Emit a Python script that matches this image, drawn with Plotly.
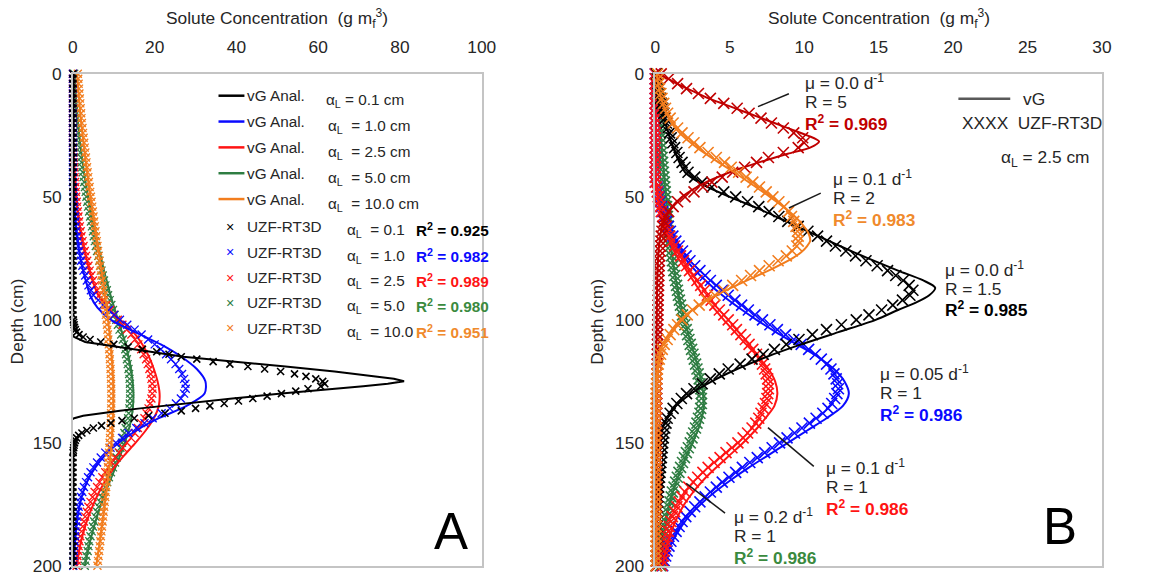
import plotly.graph_objects as go

# Layout is specified in target-pixel coordinates (1151 x 580) and mapped to figure pixels.
W, H = 1151, 581
PAD = 8                          # default html body margin
SX, SY = 1151 / 1167, 580 / 597  # page-to-picture scale
FONT = "Arial, Liberation Sans, sans-serif"
TXT = "#262626"
FS = 1.02                        # font compensation for the picture scale

# ---------------- depth grids (cm) ----------------
depth_mk = list(range(0, 201, 2))      # simulated (UZF-RT3D) output depths
depth_ln = list(range(0, 201, 5))      # analytical (vG) profile depths

# ================= Panel A : dispersivity series =================
# alpha_L = 0.1 cm
depth_a01_ln = [0, 20, 40, 60, 80, 95, 100, 103, 105, 107, 109, 111, 113, 115, 117, 119, 121, 123, 124,
                125, 126, 127, 128, 130, 132, 134, 136, 137, 138, 139, 140, 141, 143, 146, 150, 155, 160, 180, 200]
conc_a01_ln = [0, 0, 0, 0, 0, 0, -0.2, -0.8, -0.6, 0.3, 3.0, 10.5, 19.0, 27.0, 40.0, 52.0, 64.0, 74.5, 78.5,
               81.0, 77.0, 71.0, 64.0, 51.0, 39.0, 27.0, 16.5, 11.5, 6.5, 2.5, 0.3, -0.7, -1.0, -0.8, -0.3, 0, 0, 0, 0]
depth_a01_mk = list(range(0, 100, 2)) + list(range(100, 155)) + list(range(156, 201, 2))
conc_a01_mk = [0, 0, 0, 0, 0, 0, 0, 0, 0, 0, 0, 0, 0, 0, 0, 0, 0, 0, 0, 0, 0, 0, 0, 0, 0,
               0, 0, 0, 0, 0, 0, 0, 0, 0, 0, 0, 0, 0, 0, 0, 0, 0, 0, 0, 0, 0, 0, 0, 0, 0,
               0.1, 0.2, 0.3, 0.4, 0.6, 0.9, 1.5, 2.5, 4.2, 6.8, 10.0, 13.5, 17.0, 20.5, 23.5, 26.5,
               30.3, 34.3, 38.4, 42.8, 46.9, 50.8, 54.2, 57.0, 59.4, 61.1, 61.6, 60.6, 57.5, 54.5, 51.0,
               47.5, 44.0, 40.5, 37.0, 33.5, 30.0, 26.5, 22.5, 18.5, 15.0, 12.0, 9.3, 7.0, 5.0, 3.4,
               2.2, 1.4, 0.9, 0.6, 0.4, 0.3, 0.2, 0.1, 0.05,
               0, 0, 0, 0, 0, 0, 0, 0, 0, 0, 0, 0, 0, 0, 0, 0, 0, 0, 0, 0, 0, 0, 0]

# alpha_L = 1.0 cm
conc_a1_ln = [0, 0, 0, 0, 0, 0, 0, 0, 0, 0.05, 0.15, 0.35, 0.6, 0.95, 1.35, 1.85, 2.5, 3.3, 4.2, 6.0,
              9.3, 15.2, 21.5, 26.5, 30.3, 32.4, 32.2, 27.8, 21.0, 15.5, 11.2, 7.9, 5.5, 3.7, 2.5, 1.7,
              1.15, 0.8, 0.5, 0.3, 0.2]
conc_a1_mk = [0, 0, 0, 0, 0, 0, 0, 0, 0, 0, 0, 0, 0, 0, 0, 0, 0, 0, 0, 0, 0, 0, 0,
              0.1, 0.15, 0.2, 0.25, 0.3, 0.4, 0.5, 0.6, 0.7, 0.8, 1.0, 1.15, 1.3, 1.5, 1.8, 2.0, 2.3,
              2.6, 3.0, 3.4, 3.8, 4.4, 5.0, 6.2, 7.4, 8.7, 10.1, 11.5, 13.3, 15.1, 16.8, 18.4, 20.0,
              21.5, 22.8, 24.0, 25.1, 26.0, 26.7, 27.2, 27.5, 27.6, 27.2, 26.4, 25.2, 23.7, 21.7, 19.5,
              17.5, 15.5, 13.6, 12.0, 10.5, 9.2, 7.9, 6.8, 5.9, 5.0, 4.3, 3.7, 3.2, 2.7, 2.3, 2.0, 1.7,
              1.4, 1.2, 1.0, 0.85, 0.7, 0.6, 0.5, 0.4, 0.3, 0.25, 0.2, 0.15, 0.1]

# alpha_L = 2.5 cm
conc_a25_ln = [0, 0, 0, 0, 0, 0, 0.1, 0.2, 0.35, 0.55, 0.8, 1.1, 1.5, 2.0, 2.6, 3.3, 4.1, 5.0, 6.2, 8.3,
               11.6, 14.8, 17.0, 18.6, 19.8, 20.7, 21.2, 21.0, 19.8, 17.8, 15.3, 12.6, 10.1, 8.1, 6.4,
               5.0, 3.8, 2.8, 2.0, 1.4, 1.0]
conc_a25_mk = [0, 0, 0, 0, 0, 0, 0, 0, 0, 0, 0, 0, 0, 0, 0,
               0.1, 0.13, 0.17, 0.22, 0.28, 0.35, 0.43, 0.52, 0.61, 0.7, 0.8, 0.93, 1.06, 1.2, 1.35,
               1.5, 1.7, 1.9, 2.1, 2.35, 2.6, 2.9, 3.2, 3.5, 3.8, 4.1, 4.5, 4.9, 5.4, 5.9, 6.4, 7.3,
               8.2, 9.1, 10.0, 11.0, 12.1, 13.2, 14.3, 15.2, 16.0, 16.7, 17.3, 17.9, 18.3, 18.7, 19.0,
               19.2, 19.4, 19.5, 19.4, 19.2, 18.9, 18.5, 18.0, 17.5, 16.7, 15.9, 15.1, 14.2, 13.2, 12.2,
               11.3, 10.3, 9.5, 8.7, 7.9, 7.2, 6.5, 5.9, 5.3, 4.8, 4.3, 3.8, 3.4, 3.0, 2.7, 2.4, 2.1,
               1.8, 1.6, 1.4, 1.3, 1.1, 1.0, 0.9]

# alpha_L = 5.0 cm
conc_a5_ln = [0.4, 0.55, 0.75, 1.0, 1.25, 1.55, 1.9, 2.3, 2.7, 3.2, 3.7, 4.3, 4.9, 5.5, 6.2, 6.9, 7.6,
              8.4, 9.2, 10.1, 11.0, 12.0, 12.9, 13.6, 14.2, 14.6, 14.8, 14.7, 14.3, 13.6, 12.7, 11.6,
              10.4, 9.2, 8.0, 6.9, 5.9, 5.0, 4.2, 3.5, 2.9]
conc_a5_mk = [0.3, 0.35, 0.4, 0.48, 0.54, 0.6, 0.7, 0.8, 0.9, 1.0, 1.1, 1.22, 1.34, 1.46, 1.58, 1.7,
              1.84, 1.98, 2.12, 2.26, 2.4, 2.58, 2.76, 2.94, 3.12, 3.3, 3.5, 3.7, 3.95, 4.2, 4.4, 4.65,
              4.9, 5.1, 5.35, 5.6, 5.9, 6.2, 6.45, 6.7, 7.0, 7.3, 7.6, 7.95, 8.3, 8.6, 9.0, 9.4, 9.8,
              10.2, 10.6, 11.0, 11.4, 11.8, 12.2, 12.5, 12.8, 13.0, 13.2, 13.4, 13.6, 13.75, 13.85,
              13.95, 14.0, 14.0, 14.0, 13.9, 13.8, 13.65, 13.5, 13.2, 12.9, 12.6, 12.3, 12.0, 11.6,
              11.2, 10.7, 10.3, 9.8, 9.3, 8.8, 8.4, 7.9, 7.5, 7.1, 6.7, 6.3, 5.9, 5.5, 5.2, 4.9, 4.6,
              4.3, 4.0, 3.8, 3.6, 3.3, 3.1, 2.9]

# alpha_L = 10.0 cm
conc_a10_ln = [1.0, 1.25, 1.5, 1.75, 2.05, 2.4, 2.75, 3.1, 3.5, 3.9, 4.3, 4.75, 5.2, 5.65, 6.1, 6.55,
               7.0, 7.45, 7.85, 8.25, 8.6, 8.95, 9.25, 9.5, 9.7, 9.85, 9.9, 9.9, 9.8, 9.65, 9.45, 9.2,
               8.9, 8.55, 8.2, 7.8, 7.4, 7.0, 6.6, 6.15, 5.7]
conc_a10_mk = [1.2, 1.3, 1.4, 1.5, 1.6, 1.7, 1.8, 1.9, 2.0, 2.1, 2.2, 2.34, 2.48, 2.62, 2.76, 2.9,
               3.04, 3.18, 3.32, 3.46, 3.6, 3.76, 3.92, 4.08, 4.24, 4.4, 4.56, 4.72, 4.88, 5.04, 5.2,
               5.36, 5.52, 5.68, 5.84, 6.0, 6.16, 6.32, 6.48, 6.64, 6.8, 6.95, 7.1, 7.25, 7.4, 7.54,
               7.67, 7.8, 7.93, 8.06, 8.2, 8.32, 8.44, 8.56, 8.66, 8.76, 8.86, 8.95, 9.04, 9.12, 9.2,
               9.25, 9.3, 9.34, 9.37, 9.4, 9.4, 9.38, 9.36, 9.33, 9.3, 9.25, 9.2, 9.13, 9.06, 8.98,
               8.9, 8.82, 8.73, 8.64, 8.55, 8.45, 8.35, 8.24, 8.13, 8.02, 7.9, 7.78, 7.65, 7.52, 7.4,
               7.26, 7.12, 6.98, 6.84, 6.7, 6.56, 6.42, 6.28, 6.14, 6.0]

# ================= Panel B : decay / retardation series (alpha_L = 2.5 cm) =================
# mu = 0.0, R = 5
depth_b_r5_ln = [0, 2.5, 5, 7.5, 10, 12.5, 15, 17.5, 20, 22.5, 25, 27.5, 30, 32.5, 35, 37.5, 40, 45, 50,
                 55, 60, 70, 80, 100, 130, 160, 200]
conc_b_r5_ln = [0.2, 1.0, 1.8, 2.7, 3.6, 4.7, 5.8, 6.9, 8.0, 9.1, 10.2, 11.0, 10.4, 8.9, 7.5, 6.2, 5.0,
                3.1, 1.8, 1.0, 0.55, 0.25, 0.15, 0.1, 0.05, 0.0, 0.0]
conc_b_r5_mk = [0.4, 0.9, 1.5, 2.1, 2.9, 3.7, 4.6, 5.5, 6.3, 7.1, 7.8, 8.6, 9.3, 9.9, 10.0, 9.6, 8.6,
                7.6, 6.8, 6.0, 5.2, 4.5, 3.8, 3.2, 2.6, 2.0, 1.5, 1.2, 0.9, 0.7, 0.6, 0.5, 0.45, 0.4,
                0.38, 0.35, 0.33, 0.3, 0.28, 0.26, 0.25, 0.24, 0.23, 0.22, 0.21, 0.2, 0.19, 0.19, 0.18,
                0.18, 0.17, 0.17, 0.16, 0.16, 0.15, 0.15, 0.14, 0.14, 0.13, 0.13, 0.12, 0.12, 0.11,
                0.11, 0.1, 0.1, 0.1, 0.1, 0.1, 0.1, 0.1, 0.1, 0.1, 0.1, 0.1, 0.1, 0.1, 0.1, 0.1, 0.1,
                0.1, 0.1, 0.1, 0.1, 0.1, 0.1, 0.1, 0.1, 0.1, 0.1, 0.1, 0.1, 0.1, 0.1, 0.1, 0.1, 0.1,
                0.1, 0.1, 0.1, 0.1]

# mu = 0.1, R = 2
depth_b_r2_ln = [0, 10, 20, 25, 30, 35, 40, 45, 50, 55, 60, 65, 68, 70, 72.5, 75, 80, 85, 90, 95, 100,
                 105, 110, 120, 130, 150, 200]
conc_b_r2_ln = [0.1, 0.4, 1.1, 1.8, 2.8, 4.0, 5.3, 6.5, 7.7, 8.8, 9.7, 10.3, 10.4, 10.2, 9.8, 9.2, 7.6,
                5.8, 4.1, 2.7, 1.7, 1.0, 0.5, 0.15, 0.05, 0.0, 0.0]
conc_b_r2_mk = [0.15, 0.2, 0.25, 0.3, 0.38, 0.45, 0.57, 0.69, 0.83, 1.0, 1.2, 1.5, 1.8, 2.2, 2.6, 3.0,
                3.55, 4.1, 4.65, 5.1, 5.6, 6.1, 6.55, 7.0, 7.45, 7.9, 8.3, 8.65, 8.95, 9.15, 9.3, 9.45,
                9.55, 9.6, 9.6, 9.5, 9.2, 8.8, 8.25, 7.65, 7.0, 6.4, 5.8, 5.2, 4.6, 4.0, 3.45, 2.95,
                2.5, 2.15, 1.8, 1.5, 1.25, 1.0, 0.8, 0.6, 0.47, 0.36, 0.27, 0.2, 0.15, 0.12, 0.1, 0.08,
                0.07, 0.05, 0.05, 0.05, 0.05, 0.05, 0.05, 0.05, 0.05, 0.05, 0.05, 0.05, 0.05, 0.05,
                0.05, 0.05, 0.05, 0.05, 0.05, 0.05, 0.05, 0.05, 0.05, 0.05, 0.05, 0.05, 0.05, 0.05,
                0.05, 0.05, 0.05, 0.05, 0.05, 0.05, 0.05, 0.05, 0.05]

# mu = 0.0, R = 1.5
depth_b_r15_ln = [0, 10, 20, 30, 40, 45, 50, 55, 60, 65, 70, 75, 80, 84, 87, 90, 93, 96, 100, 105, 110,
                  115, 120, 125, 130, 135, 140, 145, 150, 160, 180, 200]
conc_b_r15_ln = [0.05, 0.3, 0.7, 1.2, 2.0, 3.2, 5.0, 7.0, 8.8, 10.6, 12.4, 14.3, 16.3, 18.0, 18.8, 18.4,
                 17.5, 16.3, 14.8, 12.3, 9.8, 7.5, 5.5, 3.8, 2.4, 1.4, 0.8, 0.4, 0.2, 0.05, 0.0, 0.0]
conc_b_r15_mk = [0.1, 0.15, 0.2, 0.25, 0.3, 0.35, 0.42, 0.5, 0.58, 0.66, 0.75, 0.85, 0.96, 1.07, 1.18,
                 1.3, 1.45, 1.6, 1.8, 2.0, 2.2, 2.65, 3.15, 3.8, 4.6, 5.4, 6.2, 6.95, 7.65, 8.3, 8.9,
                 9.6, 10.25, 10.9, 11.5, 12.1, 12.8, 13.45, 14.15, 14.9, 15.6, 16.15, 16.65, 17.05,
                 17.3, 17.1, 16.6, 15.95, 15.2, 14.35, 13.5, 12.5, 11.5, 10.55, 9.65, 8.8, 8.0, 7.25,
                 6.5, 5.7, 4.9, 4.3, 3.7, 3.15, 2.6, 2.1, 1.75, 1.45, 1.2, 1.0, 0.8, 0.72, 0.64, 0.58,
                 0.54, 0.5, 0.47, 0.44, 0.41, 0.38, 0.35, 0.32, 0.29, 0.26, 0.23, 0.2, 0.18, 0.16, 0.14,
                 0.12, 0.1, 0.1, 0.1, 0.09, 0.09, 0.08, 0.08, 0.07, 0.06, 0.06, 0.05]

# mu = 0.05, R = 1
conc_b_m005_ln = [0, 0, 0, 0, 0, 0, 0, 0, 0, 0.05, 0.2, 0.4, 0.65, 1.0, 1.4, 2.0, 2.7, 3.55, 4.5, 5.6,
                  6.8, 8.1, 9.5, 10.9, 12.0, 12.7, 13.0, 12.6, 11.5, 10.2, 8.9, 7.6, 6.3, 5.1, 4.0,
                  3.05, 2.25, 1.65, 1.15, 0.8, 0.55]
conc_b_m005_mk = [0, 0, 0, 0, 0, 0, 0, 0, 0, 0, 0, 0, 0, 0, 0, 0, 0, 0, 0, 0, 0, 0, 0,
                  0.12, 0.18, 0.25, 0.32, 0.41, 0.51, 0.63, 0.75, 0.88, 1.02, 1.18, 1.38, 1.6, 1.83,
                  2.07, 2.33, 2.65, 3.0, 3.35, 3.7, 4.1, 4.5, 4.9, 5.35, 5.8, 6.25, 6.7, 7.2, 7.7, 8.2,
                  8.75, 9.3, 9.8, 10.3, 10.75, 11.15, 11.5, 11.8, 12.0, 12.15, 12.25, 12.3, 12.2, 12.05,
                  11.85, 11.6, 11.25, 10.8, 10.35, 9.85, 9.35, 8.85, 8.35, 7.85, 7.35, 6.85, 6.35, 5.85,
                  5.4, 4.95, 4.5, 4.1, 3.7, 3.35, 3.0, 2.65, 2.35, 2.05, 1.8, 1.6, 1.4, 1.22, 1.05,
                  0.92, 0.8, 0.7, 0.6, 0.5]

# mu = 0.1, R = 1
conc_b_m01_ln = [0, 0, 0, 0, 0, 0, 0, 0, 0, 0.05, 0.15, 0.3, 0.5, 0.8, 1.1, 1.55, 2.1, 2.65, 3.2, 3.9,
                 4.6, 5.35, 6.1, 6.9, 7.6, 8.05, 8.2, 8.0, 7.4, 6.7, 5.9, 5.0, 4.1, 3.25, 2.55, 1.95,
                 1.5, 1.15, 0.85, 0.65, 0.5]
conc_b_m01_mk = [0, 0, 0, 0, 0, 0, 0, 0, 0, 0, 0, 0, 0, 0, 0, 0, 0, 0, 0, 0, 0, 0, 0,
                 0.08, 0.13, 0.2, 0.25, 0.32, 0.4, 0.5, 0.6, 0.72, 0.84, 0.97, 1.12, 1.3, 1.5, 1.7, 1.9,
                 2.1, 2.3, 2.55, 2.8, 3.05, 3.3, 3.5, 3.75, 4.0, 4.3, 4.6, 4.9, 5.2, 5.45, 5.75, 6.05,
                 6.3, 6.55, 6.8, 7.0, 7.2, 7.35, 7.45, 7.55, 7.6, 7.6, 7.55, 7.5, 7.4, 7.25, 7.1, 6.95,
                 6.75, 6.5, 6.2, 5.9, 5.55, 5.15, 4.75, 4.35, 3.95, 3.55, 3.2, 2.85, 2.55, 2.25, 2.0,
                 1.8, 1.6, 1.45, 1.3, 1.15, 1.05, 0.95, 0.88, 0.8, 0.72, 0.66, 0.6, 0.55, 0.5, 0.45]

# mu = 0.2, R = 1
conc_b_m02_ln = [0.05, 0.12, 0.18, 0.24, 0.3, 0.36, 0.42, 0.5, 0.57, 0.64, 0.72, 0.8, 0.88, 0.96, 1.05,
                 1.15, 1.28, 1.42, 1.57, 1.75, 1.95, 2.18, 2.42, 2.67, 2.9, 3.1, 3.22, 3.25, 3.12, 2.85,
                 2.5, 2.12, 1.78, 1.46, 1.18, 0.95, 0.76, 0.62, 0.5, 0.42, 0.35]
conc_b_m02_mk = [0.1, 0.12, 0.14, 0.16, 0.18, 0.2, 0.22, 0.24, 0.26, 0.28, 0.3, 0.32, 0.34, 0.36, 0.38,
                 0.4, 0.43, 0.46, 0.49, 0.52, 0.55, 0.58, 0.61, 0.64, 0.67, 0.7, 0.73, 0.76, 0.79, 0.82,
                 0.85, 0.88, 0.91, 0.94, 0.97, 1.0, 1.05, 1.1, 1.15, 1.2, 1.25, 1.31, 1.37, 1.43, 1.49,
                 1.55, 1.62, 1.69, 1.76, 1.83, 1.9, 1.99, 2.08, 2.17, 2.26, 2.35, 2.44, 2.53, 2.62,
                 2.71, 2.8, 2.88, 2.95, 3.0, 3.05, 3.1, 3.1, 3.1, 3.05, 3.0, 2.9, 2.8, 2.7, 2.58, 2.47,
                 2.35, 2.22, 2.09, 1.96, 1.83, 1.7, 1.59, 1.48, 1.37, 1.26, 1.15, 1.07, 0.99, 0.91,
                 0.83, 0.75, 0.7, 0.65, 0.6, 0.55, 0.5, 0.47, 0.44, 0.41, 0.38, 0.35]

# labels
alpha_labels = ["0.1", "1.0", "2.5", "5.0", "10.0"]
r2_a = ["0.925", "0.982", "0.989", "0.980", "0.951"]

BLACK, BLUE, RED, GREEN, ORANGE, DARKRED = "#000000", "#0a0aff", "#ff1414", "#2e7d42", "#f27d1e", "#c00000"
GREEN_TXT, ORANGE_TXT = "#3a8a3e", "#f08a2c"

fig = go.Figure()


def add_series(xa, ya, d_ln, c_ln, d_mk, c_mk, color, lw=2.0, msize=8, mlw=1.0, shape="spline"):
    fig.add_trace(go.Scatter(
        x=c_mk, y=d_mk, xaxis=xa, yaxis=ya, mode="markers", cliponaxis=False,
        marker=dict(symbol="x-thin", size=msize, color=color, line=dict(width=mlw, color=color)),
        showlegend=False, hoverinfo="skip"))
    fig.add_trace(go.Scatter(
        x=c_ln, y=d_ln, xaxis=xa, yaxis=ya, mode="lines",
        line=dict(color=color, width=lw, shape=shape, smoothing=0.8),
        showlegend=False, hoverinfo="skip"))


# Panel A (drawn back to front)
add_series("x", "y", depth_ln, conc_a5_ln, depth_mk, conc_a5_mk, GREEN, msize=8, mlw=1.3)
add_series("x", "y", depth_ln, conc_a25_ln, depth_mk, conc_a25_mk, RED, msize=8, mlw=1.3)
add_series("x", "y", depth_ln, conc_a1_ln, depth_mk, conc_a1_mk, BLUE, msize=8, mlw=1.3)
add_series("x", "y", depth_ln, conc_a10_ln, depth_mk, conc_a10_mk, ORANGE, msize=8, mlw=1.3)
add_series("x", "y", depth_a01_ln, conc_a01_ln, depth_a01_mk, conc_a01_mk, BLACK, msize=7, mlw=1.6,
           shape="linear")

# Panel B
for d_ln, c_ln, c_mk, col in [
        (depth_ln, conc_b_m02_ln, conc_b_m02_mk, GREEN),
        (depth_ln, conc_b_m005_ln, conc_b_m005_mk, BLUE),
        (depth_ln, conc_b_m01_ln, conc_b_m01_mk, RED),
        (depth_b_r15_ln, conc_b_r15_ln, conc_b_r15_mk, BLACK),
        (depth_b_r5_ln, conc_b_r5_ln, conc_b_r5_mk, DARKRED),
        (depth_b_r2_ln, conc_b_r2_ln, conc_b_r2_mk, ORANGE)]:
    add_series("x2", "y2", d_ln, c_ln, depth_mk, c_mk, col, msize=11, mlw=1.6)


def PX(x):
    return (x / SX - PAD) / W


def PY(y):
    return 1 - (y / SY - PAD) / H


axis_common = dict(showgrid=False, zeroline=False, showline=True, mirror=True,
                   linecolor="#c4c4c4", linewidth=1.5, ticks="", ticklabeloverflow="allow",
                   tickfont=dict(family=FONT, size=17 * FS, color=TXT))
ydom = [PY(567), PY(72)]
fig.update_layout(
    width=W, height=H, margin=dict(l=0, r=0, t=0, b=0),
    paper_bgcolor="white", plot_bgcolor="white", showlegend=False,
    xaxis=dict(domain=[PX(76), PX(486)], range=[0, 100], side="top", anchor="y",
               tickvals=[0, 20, 40, 60, 80, 100], ticklabelstandoff=12, **axis_common),
    yaxis=dict(domain=ydom, range=[200, 0], anchor="x",
               tickvals=[0, 50, 100, 150, 200], ticklabelstandoff=6, **axis_common),
    xaxis2=dict(domain=[PX(660), PX(1108)], range=[0, 30], side="top", anchor="y2",
                tickvals=[0, 5, 10, 15, 20, 25, 30], ticklabelstandoff=12, **axis_common),
    yaxis2=dict(domain=ydom, range=[200, 0], anchor="x2",
                tickvals=[0, 50, 100, 150, 200], ticklabelstandoff=6, **axis_common),
)

annotations = []
shapes = []


def text(x, y, s, size=15, color=TXT, xanchor="left", angle=0):
    annotations.append(dict(x=PX(x), y=PY(y), xref="paper", yref="paper", text=s, showarrow=False,
                            xanchor=xanchor, yanchor="middle", textangle=angle,
                            font=dict(family=FONT, size=size * FS, color=color)))


def seg(x0, y0, x1, y1, color, width):
    shapes.append(dict(type="line", xref="paper", yref="paper", x0=PX(x0), y0=PY(y0), x1=PX(x1),
                       y1=PY(y1), line=dict(color=color, width=width)))


# axis titles
title_txt = "Solute Concentration\u00a0 (g m<sub>f</sub><sup>3</sup>)"
text(281, 16, title_txt, size=17, xanchor="center")
text(884, 16, title_txt, size=17, xanchor="center")
text(20, 321, "Depth (cm)", size=17, xanchor="center", angle=-90)
text(602, 321, "Depth (cm)", size=17, xanchor="center", angle=-90)

# Panel A key
a_colors = [BLACK, BLUE, RED, GREEN, ORANGE]
r2_colors = [BLACK, BLUE, RED, GREEN_TXT, ORANGE_TXT]
for i, (lab, col) in enumerate(zip(alpha_labels, a_colors)):
    yl = 94 + 26 * i
    seg(222, yl, 248, yl, col, 2.5)
    text(249, yl, "vG Anal.", size=15)
    gap = "\u00a0" if i == 0 else "\u00a0\u00a0"
    text(328 if i == 0 else 330, yl + 5, "α<sub>L</sub>" + gap + "= " + lab + " cm", size=15)
    ym = 226 + 25.5 * i
    text(234, ym, "×", size=14, color=col, xanchor="center")
    text(249, ym, "UZF-RT3D", size=15)
    text(349, ym + 4, "α<sub>L</sub>\u00a0\u00a0= " + lab, size=15)
    text(418, ym + 3, "<b>R<sup>2</sup> = " + r2_a[i] + "</b>", size=15, color=r2_colors[i])

# Panel B key
seg(964, 97, 1016, 97, "#595959", 2.5)
text(1027, 97, "vG", size=17)
text(966, 121, "XXXX\u00a0 UZF-RT3D", size=17)
text(1005, 157, "α<sub>L</sub> = 2.5 cm", size=17)

# Panel B curve labels
blocks = [
    (808, 80, "0.0", "5", "0.969", DARKRED),
    (836, 177, "0.1", "2", "0.983", ORANGE_TXT),
    (949, 268, "0.0", "1.5", "0.985", BLACK),
    (883, 373, "0.05", "1", "0.986", BLUE),
    (829, 468, "0.1", "1", "0.986", RED),
    (737, 517, "0.2", "1", "0.986", GREEN_TXT),
]
for x, y, mu, r, r2, col in blocks:
    text(x, y, "μ = " + mu + " d<sup>-1</sup>", size=17)
    text(x, y + 20, "R = " + r, size=17)
    text(x, y + 41, "<b>R<sup>2</sup> = " + r2 + "</b>", size=17, color=col)

# leader lines
seg(763, 105, 794, 92, "#1a1a1a", 1.5)
seg(794, 207, 826, 192, "#1a1a1a", 1.5)
seg(773, 428, 819, 467, "#1a1a1a", 1.5)
seg(691, 484, 730, 514, "#1a1a1a", 1.5)

# panel letters
text(455, 532, "A", size=50, color="#000000", xanchor="center")
text(1066, 527, "B", size=50, color="#000000", xanchor="center")

fig.update_layout(annotations=annotations, shapes=shapes)
fig.write_html("out.html")
